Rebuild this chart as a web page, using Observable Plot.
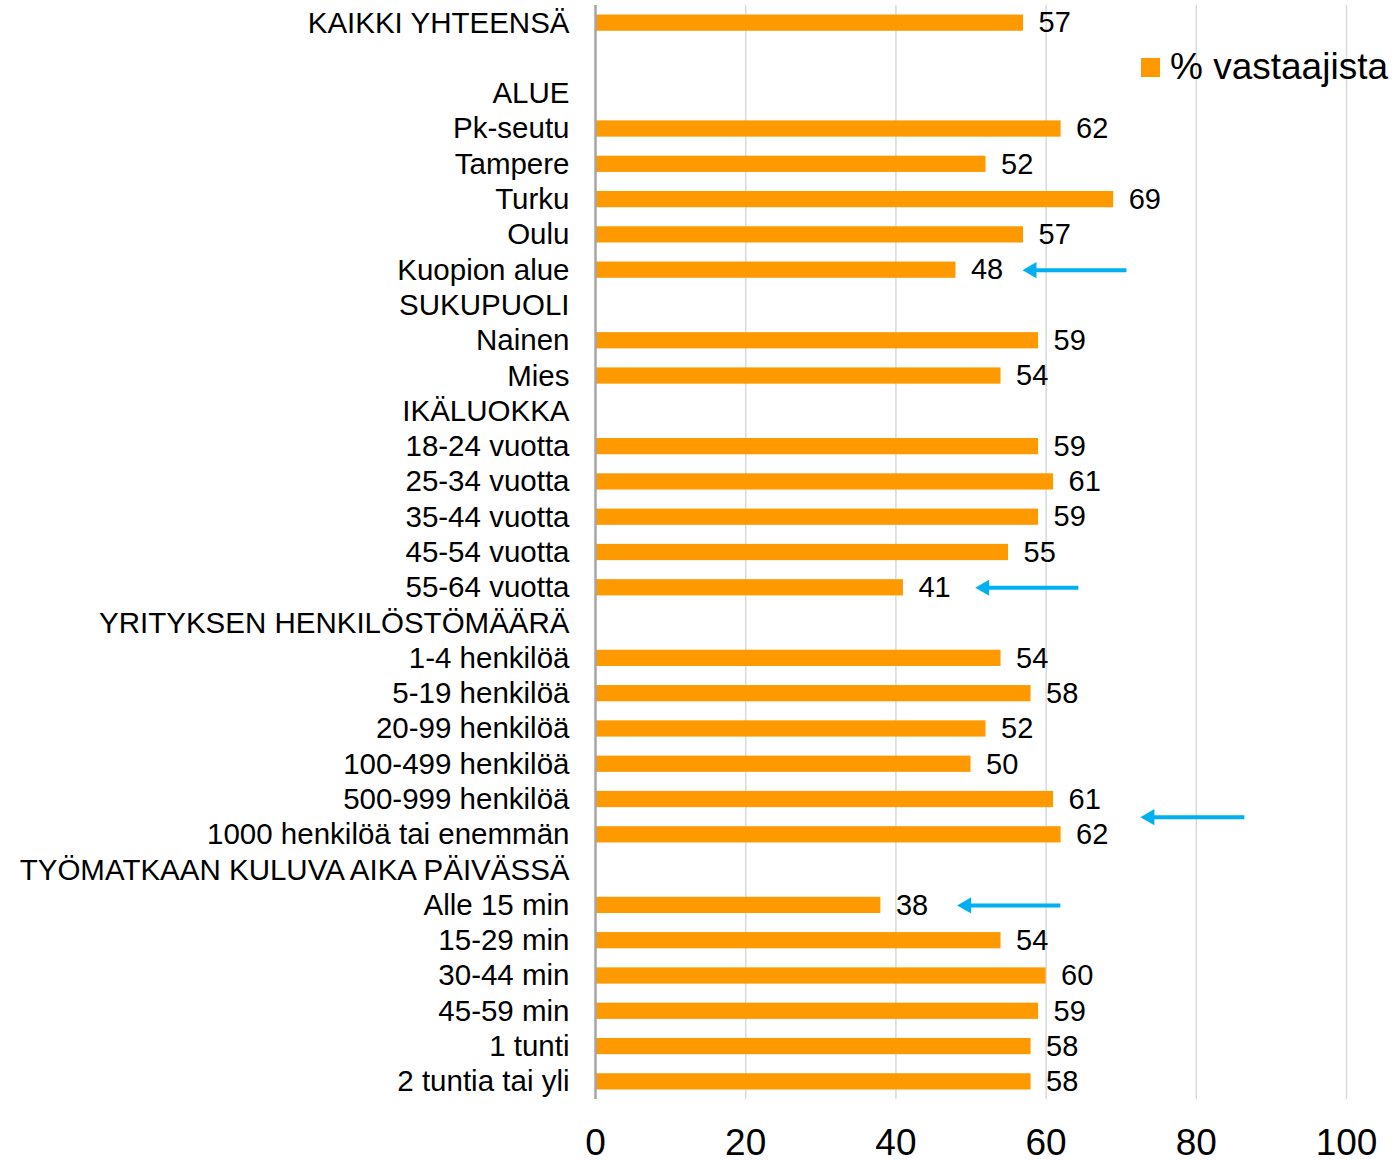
<!DOCTYPE html>
<html>
<head>
<meta charset="utf-8">
<script src="https://cdn.jsdelivr.net/npm/d3@7"></script>
<script src="https://cdn.jsdelivr.net/npm/@observablehq/plot@0.6"></script>
<style>
  body { margin: 0; background: #fff; font-family: "Liberation Sans", Arial, sans-serif; }
  #wrap { position: relative; width: 1393px; height: 1161px; }
  #legend { position: absolute; left: 1141px; top: 46px; display: flex; align-items: center; font-size: 37px; color: #000; white-space: nowrap; }
  #legend .sw { width: 19px; height: 19px; background: #FF9900; margin-right: 10px; }
</style>
</head>
<body>
<div id="wrap">
  <div id="chart"></div>
  <div id="legend"><div class="sw"></div><span>% vastaajista</span></div>
</div>
<script>
// Row labels top to bottom ("" = empty spacer row)
const categories = [
  "KAIKKI YHTEENSÄ", "", "ALUE",
  "Pk-seutu", "Tampere", "Turku", "Oulu", "Kuopion alue",
  "SUKUPUOLI", "Nainen", "Mies",
  "IKÄLUOKKA", "18-24 vuotta", "25-34 vuotta", "35-44 vuotta", "45-54 vuotta", "55-64 vuotta",
  "YRITYKSEN HENKILÖSTÖMÄÄRÄ", "1-4 henkilöä", "5-19 henkilöä", "20-99 henkilöä", "100-499 henkilöä", "500-999 henkilöä", "1000 henkilöä tai enemmän",
  "TYÖMATKAAN KULUVA AIKA PÄIVÄSSÄ", "Alle 15 min", "15-29 min", "30-44 min", "45-59 min", "1 tunti", "2 tuntia tai yli"
];
// % vastaajista (null = header row without bar)
const values = [
  57, null, null,
  62, 52, 69, 57, 48,
  null, 59, 54,
  null, 59, 61, 59, 55, 41,
  null, 54, 58, 52, 50, 61, 62,
  null, 38, 54, 60, 59, 58, 58
];
const xTicks = [0, 20, 40, 60, 80, 100];

// Annotation arrows: row, tail value, head value, offset in rows (0.5 = between rows)
const arrowRows = ["Kuopion alue", "55-64 vuotta", "500-999 henkilöä", "Alle 15 min"];
const arrowFrom = [70.7, 64.3, 86.4, 61.9];
const arrowTo = [56.9, 50.6, 72.6, 48.2];
const arrowOffset = [0, 0, 0.5, 0];

const data = categories.map((c, i) => ({category: c, value: values[i]})).filter(d => d.value != null);
const arrows = arrowRows.map((r, i) => ({row: r, from: arrowFrom[i], to: arrowTo[i], off: arrowOffset[i]}));

const W = 1393, H = 1161, mt = 5, mb = 62;
const step = (H - mt - mb) / categories.length;
const orange = "#FF9900", blue = "#00B0F0";
const font = "Liberation Sans, Arial, sans-serif";

const chart = Plot.plot({
  width: W,
  height: H,
  marginTop: mt,
  marginBottom: mb,
  marginLeft: 595,
  marginRight: 47,
  style: {fontFamily: font, color: "#000", background: "#fff", overflow: "visible"},
  x: {domain: [0, 100]},
  y: {domain: categories, paddingInner: 0.54, paddingOuter: 0.27, align: 0.5, round: false},
  marks: [
    Plot.ruleX(xTicks.filter(t => t > 0), {stroke: "#d9d9d9", strokeWidth: 1.5}),
    Plot.barX(data, {x: "value", y: "category", fill: orange}),
    Plot.ruleX([0], {stroke: "#a6a6a6", strokeWidth: 2.5}),
    Plot.text(data, {x: "value", y: "category", text: d => String(d.value), textAnchor: "start", dx: 15, fontSize: 29, fill: "#000"}),
    ...arrows.map(a => Plot.link([a], {x1: "from", x2: d => d.to + 1.2, y1: "row", y2: "row", stroke: blue, strokeWidth: 4, dy: a.off * step})),
    ...arrows.map(a => Plot.dot([a], {x: "to", y: "row", symbol: "triangle", r: 6, rotate: -90, fill: blue, stroke: null, dx: 9, dy: a.off * step})),
    Plot.axisY({tickSize: 0, tickPadding: 26, fontSize: 29.5, fill: "#000"}),
    Plot.axisX({ticks: xTicks, tickSize: 0, tickPadding: 29, fontSize: 37, fill: "#000"})
  ]
});
document.getElementById("chart").appendChild(chart);
</script>
</body>
</html>
